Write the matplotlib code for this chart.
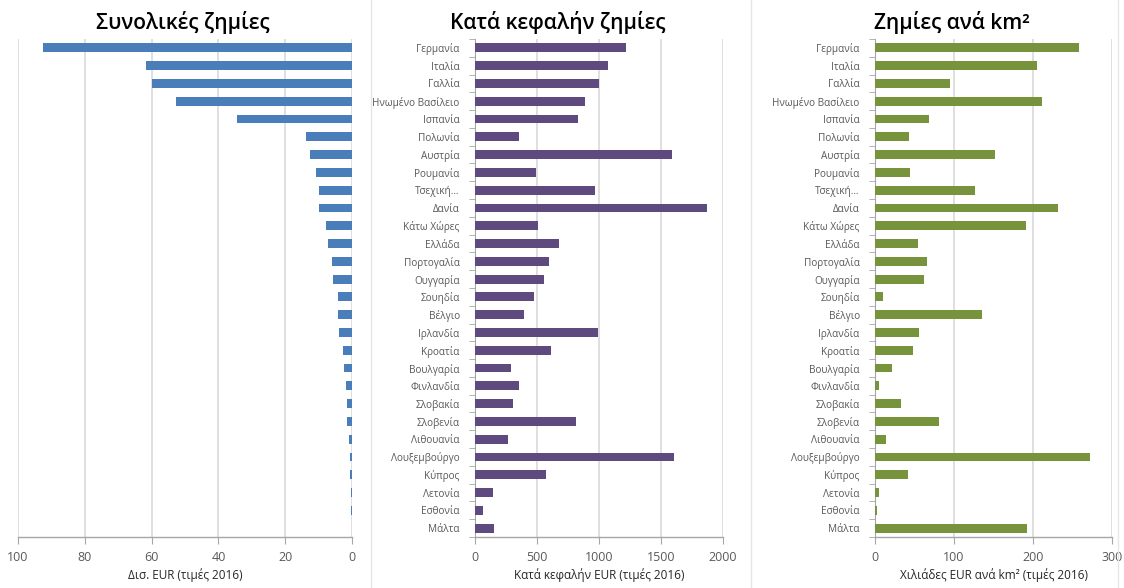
import matplotlib
matplotlib.use("Agg")
import matplotlib.pyplot as plt
import numpy as np
from matplotlib.lines import Line2D

plt.rcParams['font.family'] = ['Open Sans', 'DejaVu Sans']

countries = ["Γερμανία", "Ιταλία", "Γαλλία", "Ηνωμένο Βασίλειο", "Ισπανία", "Πολωνία",
             "Αυστρία", "Ρουμανία", "Τσεχική…", "Δανία", "Κάτω Χώρες", "Ελλάδα",
             "Πορτογαλία", "Ουγγαρία", "Σουηδία", "Βέλγιο", "Ιρλανδία", "Κροατία",
             "Βουλγαρία", "Φινλανδία", "Σλοβακία", "Σλοβενία", "Λιθουανία",
             "Λουξεμβούργο", "Κύπρος", "Λετονία", "Εσθονία", "Μάλτα"]

total_bn_eur = [92.5, 61.8, 60.0, 52.7, 34.4, 13.7, 12.7, 10.7, 9.9, 9.9, 7.9, 7.1,
                6.0, 5.7, 4.1, 4.1, 3.9, 2.7, 2.3, 1.7, 1.5, 1.5, 0.9, 0.7, 0.5, 0.4, 0.2, 0.1]

per_capita_eur = [1217, 1071, 1000, 886, 829, 358, 1591, 490, 966, 1871, 506, 676,
                  595, 560, 474, 396, 991, 611, 293, 358, 304, 816, 269, 1607, 571, 148, 65, 156]

per_km2_thousand_eur = [257.6, 204.6, 94.5, 211.9, 67.8, 43.6, 151.7, 44.5, 126.7, 232.0,
                        191.5, 54.2, 65.7, 61.9, 9.7, 135.0, 55.5, 48.3, 21.6, 5.5, 33.0,
                        80.5, 14.0, 271.6, 42.0, 5.5, 2.0, 192.0]

titles = ["Συνολικές ζημίες", "Κατά κεφαλήν ζημίες", "Ζημίες ανά km²"]
xlabels = ["Δισ. EUR (τιμές 2016)", "Κατά κεφαλήν EUR (τιμές 2016)",
           "Χιλιάδες EUR ανά km² (τιμές 2016)"]
xticks_list = [[100, 80, 60, 40, 20, 0], [0, 500, 1000, 1500, 2000], [0, 100, 200, 300]]

W, H = 1124, 588
fig = plt.figure(figsize=(W / 100, H / 100), dpi=100)
fig.patch.set_facecolor('white')

def fx(px):
    return px / W

def fy(py):
    return 1 - py / H

top, bottom = 39, 537
boxes = [(18, 352), (475, 723), (875, 1112)]
colors = ["#4A7EBB", "#5F4A7F", "#77933C"]
datas = [total_bn_eur, per_capita_eur, per_km2_thousand_eur]
xlims = [(100, 0), (0, 2000), (0, 300)]
title_x = [183, 558, 952]

grid_c = "#D9D9D9"
axis_c = "#A6A6A6"
tick_txt_c = "#595959"

y = np.arange(len(countries))
for i in range(3):
    x0, x1 = boxes[i]
    ax = fig.add_axes([fx(x0), fy(bottom), fx(x1 - x0), (bottom - top) / H])
    ax.barh(y, datas[i], height=0.5, color=colors[i], zorder=3)
    ax.set_ylim(len(countries) - 0.5, -0.5)
    ax.set_xlim(*xlims[i])
    ax.set_xticks(xticks_list[i])
    ax.set_xticklabels([str(t) for t in xticks_list[i]], color=tick_txt_c, fontsize=9)
    ax.xaxis.grid(True, color=grid_c, linewidth=1.2, zorder=0)
    ax.set_axisbelow(True)
    for s in ['top', 'right', 'left']:
        ax.spines[s].set_visible(False)
    ax.spines['bottom'].set_color(axis_c)
    ax.spines['bottom'].set_linewidth(1.0)
    ax.tick_params(axis='x', direction='out', length=5, color=axis_c, pad=5)
    ax.set_xlabel(xlabels[i], fontsize=8.5, color="#262626", labelpad=3)
    if i == 0:
        ax.set_yticks([])
    else:
        ax.spines['left'].set_visible(True)
        ax.spines['left'].set_color(axis_c)
        ax.set_yticks(y)
        ax.set_yticklabels(countries, fontsize=7.2, color=tick_txt_c)
        ax.tick_params(axis='y', which='major', length=0, pad=11)
        ax.set_yticks(np.arange(-0.5, len(countries), 1.0), minor=True)
        ax.tick_params(axis='y', which='minor', length=4, color=axis_c, direction='out')
    fig.text(fx(title_x[i]), fy(22), titles[i], ha='center', va='center',
             fontsize=15, fontweight='semibold', color='black')

# chart area borders
for xb in [371, 751, 1118]:
    fig.add_artist(Line2D([fx(xb), fx(xb)], [0, 1], color="#E6E6E6", linewidth=1.0))

fig.savefig("out.png", dpi=100, facecolor='white')
